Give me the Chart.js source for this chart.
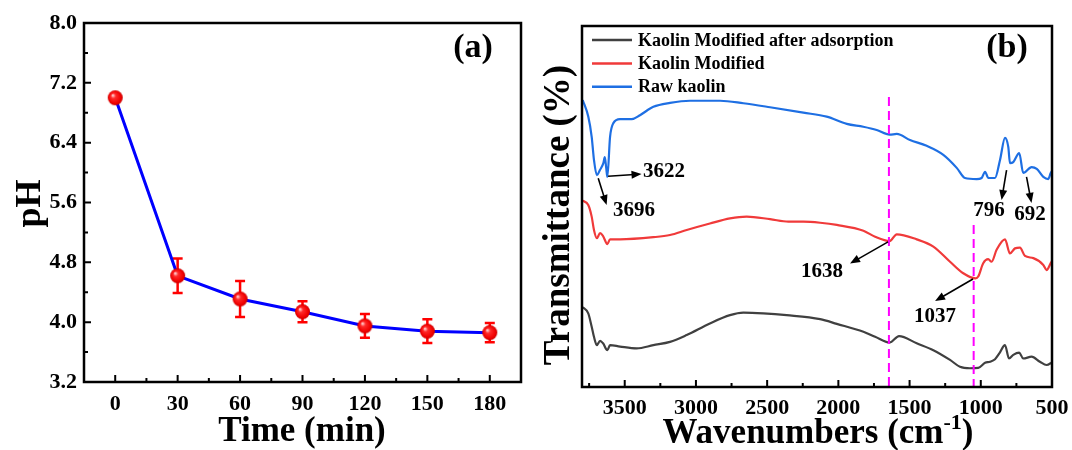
<!DOCTYPE html>
<html><head><meta charset="utf-8">
<script src="https://cdn.jsdelivr.net/npm/chart.js@4.4.0/dist/chart.umd.min.js"></script>
<style>
html,body{margin:0;padding:0;background:#fff;}
#wrap{position:relative;width:1072px;height:450px;overflow:hidden;background:#fff;}
canvas{position:absolute;top:0;}
#ca{left:0;width:540px;height:450px;}
#cb{left:540px;width:532px;height:450px;}
</style></head><body>
<div id="wrap"><canvas id="ca" width="540" height="450"></canvas><canvas id="cb" width="532" height="450"></canvas></div>
<script>
// ---------- Panel (a) data ----------
const times = [0, 30, 60, 90, 120, 150, 180];
const pH = [7.00, 4.62, 4.31, 4.14, 3.95, 3.88, 3.86];
const pHErr = [0, 0.23, 0.24, 0.14, 0.16, 0.16, 0.13];
const timeTicks = [0, 30, 60, 90, 120, 150, 180];
const timeMinor = [15, 45, 75, 105, 135, 165];
const pHTicks = [3.2, 4.0, 4.8, 5.6, 6.4, 7.2, 8.0];
const pHMinor = [3.6, 4.4, 5.2, 6.0, 6.8, 7.6];

// ---------- Panel (b) data ----------
const rawWn = [3795,3756,3732,3716,3696,3674,3650,3640,3630,3622,3603,3580,3533,3451,3393,3299,3182,3042,2831,2667,2480,2246,2082,1941,1825,1731,1640,1590,1497,1380,1263,1169,1111,1029,994,970,947,900,865,830,807,795,772,730,702,643,607,561,526,509,500];
const rawT = [79.5,74.9,69.3,62.9,58.7,60.1,62.0,63.7,60.7,58.2,69.3,73.1,74.2,74.2,75.3,77.6,78.7,79.3,79.3,78.6,77.5,76.0,74.9,72.9,72.1,71.2,69.9,70.1,68.4,66.8,64.3,60.7,57.9,57.6,57.9,59.6,57.9,57.9,62.9,69.0,66.5,62.0,62.3,64.8,59.3,60.9,60.4,58.2,57.6,59.3,59.8];
const modWn = [3795,3756,3732,3716,3696,3673,3652,3622,3603,3533,3299,3182,3065,2902,2761,2644,2480,2351,2246,2128,2011,1824,1742,1640,1590,1450,1333,1216,1123,1037,1018,983,948,924,889,830,795,760,725,690,631,561,538,509,500];
const modT = [51.6,50.4,47.2,43.5,41.2,42.6,41.8,39.6,40.9,40.9,41.5,42.1,43.5,45.3,46.7,47.2,46.5,45.8,45.8,45.5,44.9,43.3,41.6,40.4,42.3,40.9,38.9,34.7,31.5,30.1,30.6,34.3,35.4,34.7,38.0,40.9,37.0,38.4,38.6,36.3,35.7,33.8,32.4,34.3,34.9];
const adsWn = [3795,3756,3732,3716,3696,3673,3652,3622,3603,3533,3416,3299,3182,3065,2902,2761,2667,2527,2363,2128,2011,1824,1742,1640,1574,1450,1333,1216,1146,1076,1018,970,935,900,870,830,802,772,730,702,643,585,538,509,500];
const adsT = [22.1,20.4,16.7,13.9,11.6,12.8,12.1,10.2,11.6,11.2,10.7,11.6,12.5,14.4,17.6,19.9,20.6,20.4,19.9,18.8,17.5,15.3,13.9,12.3,14.1,12.1,10.2,7.5,5.6,5.2,5.3,6.7,7.0,7.7,9.3,11.6,7.9,8.9,9.5,7.9,8.4,7.0,6.1,6.6,6.9];
const wnTicks = [3500, 3000, 2500, 2000, 1500, 1000, 500];
const wnMinor = [3750, 3250, 2750, 2250, 1750, 1250, 750];
const seriesLabels = ['Kaolin Modified after adsorption', 'Kaolin Modified', 'Raw kaolin'];

// annotations (peak labels, arrows, dashed markers)
const peakLabels = ['3622', '3696', '1638', '1037', '796', '692'];
const labelWn = [3224, 3435, 2115, 1321, 942, 654];
const labelT = [59.6, 49.0, 31.9, 19.4, 48.8, 47.9];
const arrowStartWn = [3617, 3686, 1651, 1055, 819, 679];
const arrowStartT = [58.4, 57.8, 40.2, 29.9, 60.1, 58.2];
const arrowEndWn = [3382, 3627, 1918, 1321, 854, 644];
const arrowEndT = [59.0, 50.4, 34.2, 23.8, 51.8, 51.0];
const dashWn = [1645, 1050];
const dashTopT = [80.3, 44.9];

// ---------- styling ----------
const FONT = "'Liberation Serif', 'Times New Roman', serif";
Chart.defaults.font.family = FONT;
Chart.defaults.color = '#000';
const BLUE = '#1e6fe3', RED = '#f03a3a', GRAY = '#404040';

function sphere(r) {
  const c = document.createElement('canvas');
  const s = 2 * r + 2; c.width = c.height = s;
  const g = c.getContext('2d');
  const cx = s / 2;
  const grad = g.createRadialGradient(cx - r * 0.35, cx - r * 0.35, 0.3, cx, cx, r);
  grad.addColorStop(0, '#ffe0e0');
  grad.addColorStop(0.3, '#ff2a2a');
  grad.addColorStop(0.8, '#f00000');
  grad.addColorStop(1, '#c80000');
  g.fillStyle = grad; g.beginPath(); g.arc(cx, cx, r, 0, Math.PI * 2); g.fill();
  return c;
}

function drawArrow(ctx, x1, y1, x2, y2) {
  const a = Math.atan2(y2 - y1, x2 - x1), L = 10, W = 4;
  const c = Math.cos(a), s = Math.sin(a);
  ctx.beginPath(); ctx.moveTo(x1, y1); ctx.lineTo(x2 - c * L * 0.7, y2 - s * L * 0.7); ctx.stroke();
  ctx.beginPath(); ctx.moveTo(x2, y2);
  ctx.lineTo(x2 - L * c + W * s, y2 - L * s - W * c);
  ctx.lineTo(x2 - L * c - W * s, y2 - L * s + W * c);
  ctx.closePath(); ctx.fill();
}

function fixFit(size, isH) {
  return function (s) {
    if (isH) s.height = size; else s.width = size;
    s.paddingLeft = s.paddingRight = s.paddingTop = s.paddingBottom = 0;
  };
}

// ---------- Panel (a) ----------
const pluginA = {
  id: 'decorA',
  beforeDatasetsDraw(chart) {
    const { ctx, scales: { x, y } } = chart;
    ctx.save(); ctx.strokeStyle = '#ff0000'; ctx.lineWidth = 2.5;
    times.forEach((t, i) => {
      const e = pHErr[i]; if (!e) return;
      const px = x.getPixelForValue(t);
      const y1 = y.getPixelForValue(pH[i] + e), y2 = y.getPixelForValue(pH[i] - e);
      ctx.beginPath();
      ctx.moveTo(px, y1); ctx.lineTo(px, y2);
      ctx.moveTo(px - 5, y1); ctx.lineTo(px + 5, y1);
      ctx.moveTo(px - 5, y2); ctx.lineTo(px + 5, y2);
      ctx.stroke();
    });
    ctx.restore();
  },
  afterDraw(chart) {
    const { ctx, chartArea: a, scales: { x, y } } = chart;
    ctx.save();
    ctx.strokeStyle = '#000'; ctx.lineWidth = 2.5;
    ctx.strokeRect(a.left, a.top, a.right - a.left, a.bottom - a.top);
    ctx.lineWidth = 2;
    ctx.beginPath();
    timeTicks.forEach(v => { const p = x.getPixelForValue(v); ctx.moveTo(p, a.bottom); ctx.lineTo(p, a.bottom - 7); });
    timeMinor.forEach(v => { const p = x.getPixelForValue(v); ctx.moveTo(p, a.bottom); ctx.lineTo(p, a.bottom - 4); });
    pHTicks.forEach(v => { const p = y.getPixelForValue(v); ctx.moveTo(a.left, p); ctx.lineTo(a.left + 7, p); });
    pHMinor.forEach(v => { const p = y.getPixelForValue(v); ctx.moveTo(a.left, p); ctx.lineTo(a.left + 4, p); });
    ctx.stroke();
    ctx.fillStyle = '#000'; ctx.textAlign = 'center'; ctx.textBaseline = 'middle';
    ctx.font = 'bold 35px ' + FONT;
    ctx.fillText('Time (min)', (a.left + a.right) / 2 - 0.5, 432);
    ctx.font = 'bold 34px ' + FONT;
    ctx.fillText('(a)', a.right - 48, a.top + 25);
    ctx.save();
    ctx.translate(31, (a.top + a.bottom) / 2 + 1); ctx.rotate(-Math.PI / 2);
    ctx.font = 'bold 36px ' + FONT;
    ctx.fillText('pH', 0, 0);
    ctx.restore();
    ctx.restore();
  }
};

new Chart(document.getElementById('ca'), {
  type: 'line',
  data: {
    datasets: [{
      label: 'pH',
      data: times.map((t, i) => ({ x: t, y: pH[i] })),
      borderColor: '#0000ff', borderWidth: 3,
      pointStyle: sphere(7.5), pointRadius: 7.5,
      backgroundColor: '#ff0000', tension: 0
    }]
  },
  options: {
    responsive: false, animation: false, devicePixelRatio: 1,
    layout: { padding: { top: 23, right: 19, left: 0, bottom: 0 } },
    plugins: { legend: { display: false }, tooltip: { enabled: false } },
    scales: {
      x: {
        type: 'linear', min: -15, max: 195,
        afterBuildTicks: s => { s.ticks = timeTicks.map(v => ({ value: v })); },
        afterFit: fixFit(68, true),
        grid: { display: false, drawTicks: false, tickLength: 0 }, border: { display: false },
        ticks: { font: { size: 22, weight: 'bold' }, padding: 9, maxRotation: 0, autoSkip: false, color: '#000',
                 callback: v => String(v) }
      },
      y: {
        type: 'linear', min: 3.2, max: 8.0,
        afterBuildTicks: s => { s.ticks = pHTicks.map(v => ({ value: v })); },
        afterFit: fixFit(84, false),
        grid: { display: false, drawTicks: false, tickLength: 0 }, border: { display: false },
        ticks: { font: { size: 22, weight: 'bold' }, padding: 7, autoSkip: false, color: '#000',
                 callback: v => Number(v).toFixed(1) }
      }
    }
  },
  plugins: [pluginA]
});

// ---------- Panel (b) ----------
const pluginB = {
  id: 'decorB',
  afterDatasetsDraw(chart) {
    const { ctx, chartArea: a, scales: { x, y } } = chart;
    ctx.save();
    // dashed markers
    ctx.strokeStyle = '#ff00ff'; ctx.lineWidth = 2; ctx.setLineDash([9, 5]);
    dashWn.forEach((w, i) => {
      const px = x.getPixelForValue(w);
      ctx.beginPath(); ctx.moveTo(px, y.getPixelForValue(dashTopT[i])); ctx.lineTo(px, a.bottom); ctx.stroke();
    });
    ctx.setLineDash([]);
    // arrows + labels
    ctx.strokeStyle = '#000'; ctx.fillStyle = '#000'; ctx.lineWidth = 1.6;
    peakLabels.forEach((t, i) => {
      drawArrow(ctx, x.getPixelForValue(arrowStartWn[i]), y.getPixelForValue(arrowStartT[i]),
                x.getPixelForValue(arrowEndWn[i]), y.getPixelForValue(arrowEndT[i]));
    });
    ctx.font = 'bold 21px ' + FONT; ctx.textAlign = 'center'; ctx.textBaseline = 'middle';
    peakLabels.forEach((t, i) => {
      ctx.fillText(t, x.getPixelForValue(labelWn[i]), y.getPixelForValue(labelT[i]));
    });
    ctx.restore();
  },
  afterDraw(chart) {
    const { ctx, chartArea: a, scales: { x } } = chart;
    ctx.save();
    ctx.strokeStyle = '#000'; ctx.lineWidth = 2.5;
    ctx.strokeRect(a.left, a.top, a.right - a.left, a.bottom - a.top);
    ctx.lineWidth = 2; ctx.beginPath();
    wnTicks.forEach(v => { const p = x.getPixelForValue(v); ctx.moveTo(p, a.bottom); ctx.lineTo(p, a.bottom - 7); });
    wnMinor.forEach(v => { const p = x.getPixelForValue(v); ctx.moveTo(p, a.bottom); ctx.lineTo(p, a.bottom - 4); });
    ctx.stroke();
    // legend
    const ds = chart.data.datasets;
    const order = [0, 1, 2];
    ctx.font = 'bold 18px ' + FONT; ctx.textAlign = 'left'; ctx.textBaseline = 'middle'; ctx.fillStyle = '#000';
    order.forEach((di, k) => {
      const yy = a.top + 14 + k * 23.4;
      ctx.strokeStyle = ds[di].borderColor; ctx.lineWidth = 2.5;
      ctx.beginPath(); ctx.moveTo(a.left + 10, yy); ctx.lineTo(a.left + 50, yy); ctx.stroke();
      ctx.fillText(ds[di].label, a.left + 56, yy + 1);
    });
    // titles
    ctx.textAlign = 'center';
    ctx.font = 'bold 34px ' + FONT;
    ctx.fillText('(b)', a.right - 45, a.top + 22);
    // x title with superscript
    const cx = 278, cy = 434;
    const p1 = 'Wavenumbers (cm', sup = '-1', p3 = ')';
    ctx.font = 'bold 35px ' + FONT; const w1 = ctx.measureText(p1).width, w3 = ctx.measureText(p3).width;
    ctx.font = 'bold 22px ' + FONT; const w2 = ctx.measureText(sup).width;
    let sx = cx - (w1 + w2 + w3) / 2;
    ctx.textAlign = 'left';
    ctx.font = 'bold 35px ' + FONT; ctx.fillText(p1, sx, cy);
    ctx.font = 'bold 22px ' + FONT; ctx.fillText(sup, sx + w1, cy - 11);
    ctx.font = 'bold 35px ' + FONT; ctx.fillText(p3, sx + w1 + w2, cy);
    // y title
    ctx.save();
    ctx.translate(19, 215); ctx.rotate(-Math.PI / 2);
    ctx.textAlign = 'center'; ctx.font = 'bold 37px ' + FONT;
    ctx.fillText('Transmittance (%)', 0, 0);
    ctx.restore();
    ctx.restore();
  }
};

const lineOpts = { borderWidth: 2.2, pointRadius: 0, cubicInterpolationMode: 'monotone' };
new Chart(document.getElementById('cb'), {
  type: 'line',
  data: {
    datasets: [
      Object.assign({ label: seriesLabels[0], data: adsWn.map((w, i) => ({ x: w, y: adsT[i] })), borderColor: GRAY }, lineOpts),
      Object.assign({ label: seriesLabels[1], data: modWn.map((w, i) => ({ x: w, y: modT[i] })), borderColor: RED }, lineOpts),
      Object.assign({ label: seriesLabels[2], data: rawWn.map((w, i) => ({ x: w, y: rawT[i] })), borderColor: BLUE }, lineOpts)
    ]
  },
  options: {
    responsive: false, animation: false, devicePixelRatio: 1,
    layout: { padding: { top: 26, right: 20, left: 0, bottom: 0 } },
    plugins: { legend: { display: false }, tooltip: { enabled: false } },
    scales: {
      x: {
        type: 'linear', min: 500, max: 3800, reverse: true,
        afterBuildTicks: s => { s.ticks = wnTicks.map(v => ({ value: v })); },
        afterFit: fixFit(63, true),
        grid: { display: false, drawTicks: false, tickLength: 0 }, border: { display: false },
        ticks: { font: { size: 22, weight: 'bold' }, padding: 8, maxRotation: 0, autoSkip: false, color: '#000',
                 callback: v => String(v) }
      },
      y: {
        type: 'linear', min: 0, max: 100,
        afterFit: fixFit(42, false),
        grid: { display: false, drawTicks: false, tickLength: 0 }, border: { display: false },
        ticks: { display: false }
      }
    }
  },
  plugins: [pluginB]
});
</script>
</body></html>
